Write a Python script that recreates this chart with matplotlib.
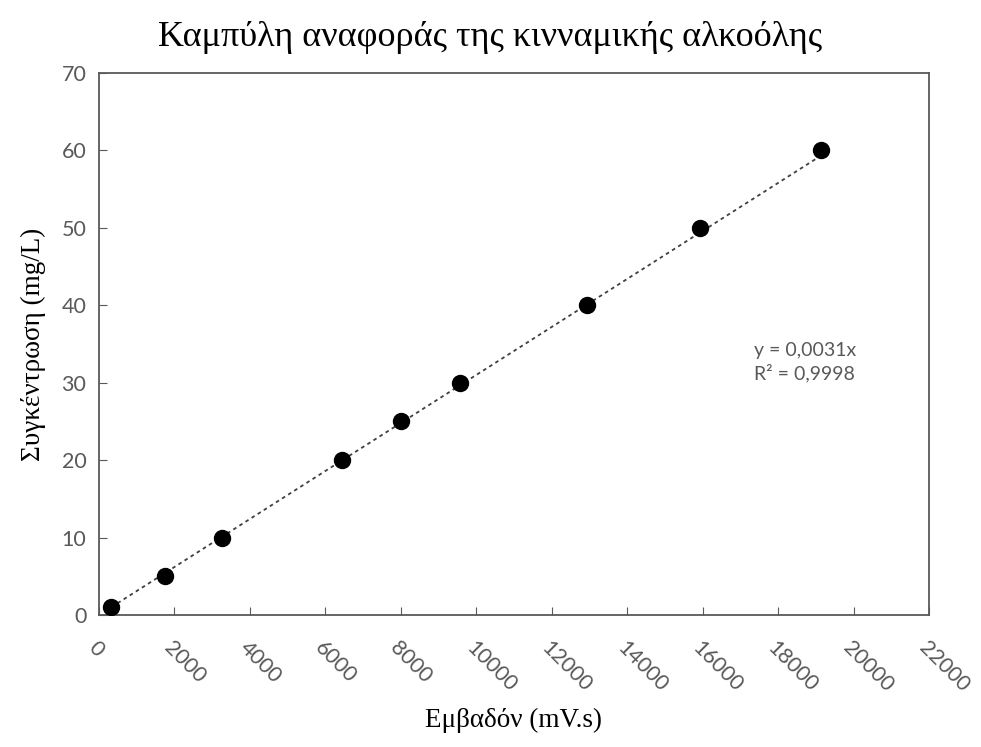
import numpy as np
import matplotlib.pyplot as plt

# calibration points
area = [330, 1760, 3260, 6440, 8000, 9560, 12930, 15920, 19130]
conc = [1, 5, 10, 20, 25, 30, 40, 50, 60]
slope = 0.0031
eq_text = "y = 0,0031x\nR² = 0,9998"
xticks = list(range(0, 22001, 2000))
yticks = list(range(0, 71, 10))

fig = plt.figure(figsize=(9.81, 7.47), dpi=100)
ax = fig.add_axes([0.1009, 0.1767, 0.8461, 0.7256])

xs = np.array([min(area), max(area)])
ax.plot(xs, slope * xs, linestyle=(0, (2, 2)), color='#404040', linewidth=1.3, zorder=2)
ax.plot(area, conc, 'o', color='black', markersize=11.5, zorder=3)

ax.set_xlim(0, 22000)
ax.set_ylim(0, 70)
ax.set_xticks(xticks)
ax.set_yticks(yticks)
ax.tick_params(direction='in', length=6, color='#595959', labelcolor='#595959',
               labelsize=15.5)
ax.tick_params(axis='x', pad=16)
ax.tick_params(axis='y', pad=9)
for lab in ax.get_xticklabels():
    lab.set_rotation(-45)
    lab.set_ha('left')
    lab.set_va('top')
    lab.set_rotation_mode('anchor')
    lab.set_family('Lato')
for lab in ax.get_yticklabels():
    lab.set_family('Lato')
for s in ax.spines.values():
    s.set_color('#595959')
    s.set_linewidth(1.3)

ax.text(17350, 32.7, eq_text, color='#595959', fontsize=14, family='Lato',
        va='center', ha='left', linespacing=1.3)

fig.suptitle("Καμπύλη αναφοράς της κινναμικής αλκοόλης", family='Liberation Serif',
             fontsize=26, y=0.972)
ax.set_xlabel("Εμβαδόν (mV.s)", family='Liberation Serif', fontsize=19.5, labelpad=9)
ax.set_ylabel("Συγκέντρωση (mg/L)", family='Liberation Serif', fontsize=19.5, labelpad=11)

fig.savefig("out.png", dpi=100)
